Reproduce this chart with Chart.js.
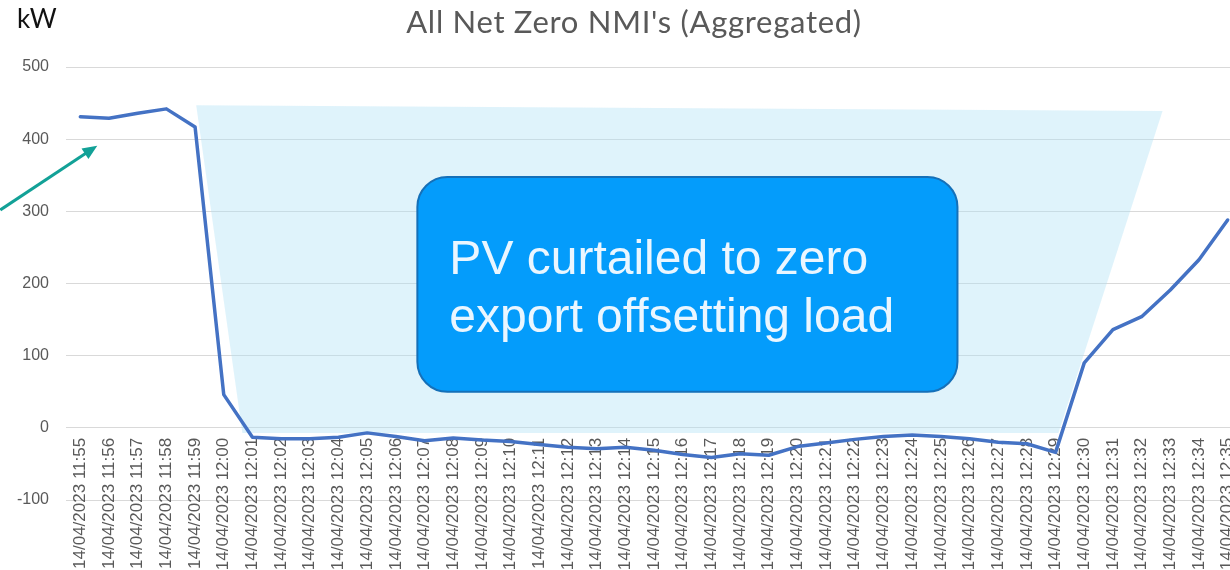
<!DOCTYPE html>
<html>
<head>
<meta charset="utf-8">
<title>All Net Zero NMI's (Aggregated)</title>
<script src="https://cdn.jsdelivr.net/npm/chart.js@4.4.1/dist/chart.umd.min.js"></script>
<style>
  html, body { margin: 0; padding: 0; background: #fff; }
  #wrap { width: 1230px; height: 570px; overflow: hidden; position: relative; }
  canvas { display: block; }
</style>
</head>
<body>
<div id="wrap">
  <canvas id="chart" width="1242" height="570"></canvas>
</div>
<script>
const chartTitle = "All Net Zero NMI's (Aggregated)";
const day = "14/04/2023";
const times = [
  "11:55", "11:56", "11:57", "11:58", "11:59",
  "12:00", "12:01", "12:02", "12:03", "12:04", "12:05", "12:06", "12:07", "12:08", "12:09",
  "12:10", "12:11", "12:12", "12:13", "12:14", "12:15", "12:16", "12:17", "12:18", "12:19",
  "12:20", "12:21", "12:22", "12:23", "12:24", "12:25", "12:26", "12:27", "12:28", "12:29",
  "12:30", "12:31", "12:32", "12:33", "12:34", "12:35",
];
// aggregated kW across all net zero NMIs, one reading per minute
const kw = [
  431, 429, 436, 442, 417,
  46, -13, -15, -15, -13, -7, -12, -18, -14, -17,
  -19, -23, -27, -29, -27, -31, -37, -41, -36, -38,
  -26, -21, -16, -12, -10, -12, -15, -20, -22, -34,
  90, 136, 154, 191, 233, 288,
];
const yTicks = [-100, 0, 100, 200, 300, 400, 500];

const labels = times.map((t) => `${day} ${t}`);

// shaded curtailment window, callout box, arrow and headings
const overlays = {
  id: "overlays",
  beforeDatasetsDraw(chart, args, opts) {
    const { ctx, scales: { x, y } } = chart;
    ctx.save();
    ctx.beginPath();
    opts.shade.forEach(([i, v], n) => {
      const px = x.getPixelForValue(i);
      const py = y.getPixelForValue(v);
      if (n) ctx.lineTo(px, py);
      else ctx.moveTo(px, py);
    });
    ctx.closePath();
    ctx.fillStyle = opts.shadeColor;
    ctx.fill();
    ctx.restore();
  },
  afterDatasetsDraw(chart, args, opts) {
    const { ctx, scales: { x, y } } = chart;
    const b = opts.box;
    const l = x.getPixelForValue(b.from);
    const r = x.getPixelForValue(b.to);
    const t = y.getPixelForValue(b.top);
    const btm = y.getPixelForValue(b.bottom);

    ctx.save();
    ctx.beginPath();
    ctx.roundRect(l, t, r - l, btm - t, b.radius);
    ctx.fillStyle = b.fill;
    ctx.fill();
    ctx.lineWidth = 2;
    ctx.strokeStyle = b.stroke;
    ctx.stroke();

    ctx.fillStyle = b.color;
    ctx.font = b.font;
    ctx.textBaseline = "alphabetic";
    ctx.textAlign = "left";
    b.lines.forEach((line, k) => {
      ctx.fillText(line, l + b.padX, t + b.firstBaseline + k * b.lineGap);
    });

    // arrow pointing at the pre-curtailment load
    const a = opts.arrow;
    const x0 = x.getPixelForValue(a.from[0]);
    const y0 = y.getPixelForValue(a.from[1]);
    const x1 = x.getPixelForValue(a.to[0]);
    const y1 = y.getPixelForValue(a.to[1]);
    const ang = Math.atan2(y1 - y0, x1 - x0);
    const head = 16;
    ctx.strokeStyle = a.color;
    ctx.fillStyle = a.color;
    ctx.lineWidth = 3;
    ctx.beginPath();
    ctx.moveTo(x0, y0);
    ctx.lineTo(x1 - Math.cos(ang) * head * 0.8, y1 - Math.sin(ang) * head * 0.8);
    ctx.stroke();
    ctx.beginPath();
    ctx.moveTo(x1, y1);
    ctx.lineTo(x1 - head * Math.cos(ang - 0.4), y1 - head * Math.sin(ang - 0.4));
    ctx.lineTo(x1 - head * Math.cos(ang + 0.4), y1 - head * Math.sin(ang + 0.4));
    ctx.closePath();
    ctx.fill();
    ctx.restore();
  },
  afterDraw(chart, args, opts) {
    const { ctx } = chart;
    ctx.save();
    ctx.textBaseline = "alphabetic";

    // chart title
    ctx.fillStyle = "#595959";
    ctx.font = "31px Lato";
    ctx.letterSpacing = "0.7px";
    ctx.textAlign = "center";
    ctx.fillText(opts.title, opts.titleX, 33);

    // unit label above the value axis
    ctx.letterSpacing = "0px";
    ctx.fillStyle = "#111";
    ctx.font = "26px Lato";
    ctx.textAlign = "left";
    ctx.fillText("kW", 17, 28);
    ctx.restore();
  },
};

new Chart(document.getElementById("chart"), {
  type: "line",
  data: {
    labels,
    datasets: [
      {
        label: "kW",
        data: kw,
        borderColor: "#4472C4",
        borderWidth: 3.5,
        pointRadius: 0,
        tension: 0,
        fill: false,
        borderCapStyle: "round",
        borderJoinStyle: "round",
      },
    ],
  },
  plugins: [overlays],
  options: {
    responsive: false,
    animation: false,
    layout: { padding: { left: 0, right: 0, top: 67, bottom: 70 } },
    scales: {
      x: {
        position: { y: 0 },
        offset: true,
        grid: { display: false, drawTicks: false },
        border: { display: false },
        ticks: {
          autoSkip: false,
          minRotation: 90,
          maxRotation: 90,
          padding: 10,
          color: "#595959",
          font: { family: "Liberation Sans", size: 17 },
        },
        afterFit(s) {
          s.height = 0;
          s.paddingLeft = 0;
          s.paddingRight = 0;
        },
      },
      y: {
        min: -100,
        max: 500,
        afterBuildTicks(s) {
          s.ticks = yTicks.map((v) => ({ value: v }));
        },
        grid: { color: "#D9D9D9", lineWidth: 1, drawTicks: false },
        border: { display: false },
        ticks: {
          padding: 17,
          color: "#595959",
          font: { family: "Liberation Sans", size: 16 },
        },
        afterFit(s) {
          s.width = 66;
        },
      },
    },
    plugins: {
      legend: { display: false },
      tooltip: { enabled: false },
      title: { display: false },
      overlays: {
        title: chartTitle,
        titleX: 634,
        shade: [[4.04, 447], [37.73, 439], [34.1, -7], [5.65, -7]],
        shadeColor: "rgba(176, 226, 246, 0.4)",
        box: {
          from: 11.75,
          to: 30.58,
          top: 347.6,
          bottom: 49.9,
          radius: 30,
          fill: "#049CFB",
          stroke: "#1570B8",
          color: "#EAF6FF",
          font: "48px 'Liberation Sans'",
          lines: ["PV curtailed to zero", "export offsetting load"],
          padX: 32,
          firstBaseline: 97,
          lineGap: 58,
        },
        arrow: { from: [-2.79, 302], to: [0.59, 391], color: "#12A197" },
      },
    },
  },
});
</script>
</body>
</html>
